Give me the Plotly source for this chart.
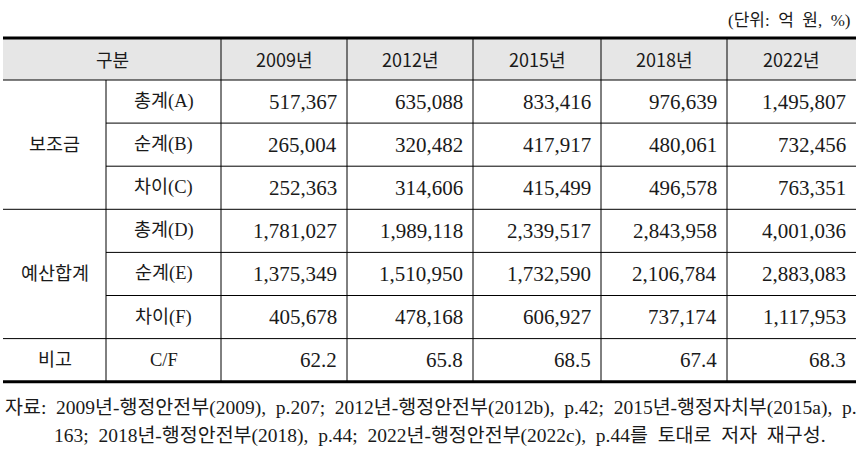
import plotly.graph_objects as go

# --- données ---
years = ["2009년", "2012년", "2015년", "2018년", "2022년"]
groups = ["보조금", "예산합계", "비고"]
group_rows = [3, 3, 1]
row_labels = ["총계(A)", "순계(B)", "차이(C)", "총계(D)", "순계(E)", "차이(F)", "C/F"]

subsidy_total = [517367, 635088, 833416, 976639, 1495807]
subsidy_net = [265004, 320482, 417917, 480061, 732456]
subsidy_diff = [252363, 314606, 415499, 496578, 763351]
budget_total = [1781027, 1989118, 2339517, 2843958, 4001036]
budget_net = [1375349, 1510950, 1732590, 2106784, 2883083]
budget_diff = [405678, 478168, 606927, 737174, 1117953]
ratio_cf = [62.2, 65.8, 68.5, 67.4, 68.3]

unit_note = ["(단위:", "억", "원,", "%)"]
source_line1 = ["자료:", "2009년-행정안전부(2009),", "p.207;", "2012년-행정안전부(2012b),",
                "p.42;", "2015년-행정자치부(2015a),", "p."]
source_line2 = ["163;", "2018년-행정안전부(2018),", "p.44;", "2022년-행정안전부(2022c),",
                "p.44를", "토대로", "저자", "재구성."]

rows = [subsidy_total, subsidy_net, subsidy_diff,
        budget_total, budget_net, budget_diff]
fmt_rows = [[f"{v:,}" for v in r] for r in rows] + [[f"{v:.1f}" for v in ratio_cf]]

# --- mise en page (pixels) ---
W, H = 861, 460
col_edges = [3, 106, 221, 347, 473, 601, 727, 856]
head_top, head_bot = 38, 80
row_h = 43.1
row_edges = [head_bot + i * row_h for i in range(len(row_labels) + 1)]

SANS = "Noto Sans CJK KR, Noto Sans, sans-serif"
SERIF = "Liberation Serif, Noto Sans CJK KR, serif"
TXT = "#1a1a1a"
GAP = "\u00a0\u00a0"

shapes = []
annots = []

def hline(y, x0, x1, w=1):
    shapes.append(dict(type="line", x0=x0, x1=x1, y0=y, y1=y,
                       line=dict(color="black", width=w)))

def vline(x, y0, y1, w=1):
    shapes.append(dict(type="line", x0=x, x1=x, y0=y0, y1=y1,
                       line=dict(color="black", width=w)))

def text(x, y, s, anchor="center", family=SERIF, size=18):
    annots.append(dict(x=x, y=y, text=s, showarrow=False, xanchor=anchor,
                       yanchor="middle", font=dict(family=family, size=size, color=TXT)))

# header fond gris
shapes.append(dict(type="rect", x0=col_edges[0], x1=col_edges[-1], y0=head_top, y1=head_bot,
                   fillcolor="#e6e6e6", line=dict(width=0), layer="below"))

# header
hc = (head_top + head_bot) / 2
text((col_edges[0] + col_edges[2]) / 2, hc, "구분", family=SANS, size=18)
for j, yr in enumerate(years):
    text((col_edges[j + 2] + col_edges[j + 3]) / 2, hc, yr, family=SANS, size=18)

# lignes horizontales
hline(head_top, col_edges[0], col_edges[-1], 3)
hline(head_bot, col_edges[0], col_edges[-1], 1)
r = 0
for g, n in zip(groups, group_rows):
    y0, y1 = row_edges[r], row_edges[r + n]
    text((col_edges[0] + col_edges[1]) / 2, (y0 + y1) / 2, g, size=18.5)
    for k in range(1, n):
        hline(row_edges[r + k], col_edges[1], col_edges[-1])
    r += n
    if r < len(row_labels):
        hline(row_edges[r], col_edges[0], col_edges[-1])
hline(row_edges[-1], col_edges[0], col_edges[-1], 3)

# lignes verticales
vline(col_edges[1], head_bot, row_edges[-1])
for x in col_edges[2:-1]:
    vline(x, head_top, row_edges[-1])

# cellules
for i, lab in enumerate(row_labels):
    yc = (row_edges[i] + row_edges[i + 1]) / 2
    text((col_edges[1] + col_edges[2]) / 2, yc, lab, size=18.5)
    for j, s in enumerate(fmt_rows[i]):
        text(col_edges[j + 3] - 8, yc, s, anchor="right", size=21)

# notes
text(853, 20, GAP.join(unit_note), anchor="right", size=17)
text(3, 408, GAP.join(source_line1), anchor="left", size=19.5)
text(52, 436, GAP.join(source_line2), anchor="left", size=19.5)

fig = go.Figure()
fig.update_layout(
    width=W, height=H,
    margin=dict(l=0, r=0, t=0, b=0),
    paper_bgcolor="white", plot_bgcolor="white",
    xaxis=dict(range=[0, W], visible=False, fixedrange=True),
    yaxis=dict(range=[H, 0], visible=False, fixedrange=True),
    shapes=shapes, annotations=annots,
    showlegend=False,
)
fig.write_html("out.html", config={"displayModeBar": False},
               post_script="document.body.style.margin='0px';")
